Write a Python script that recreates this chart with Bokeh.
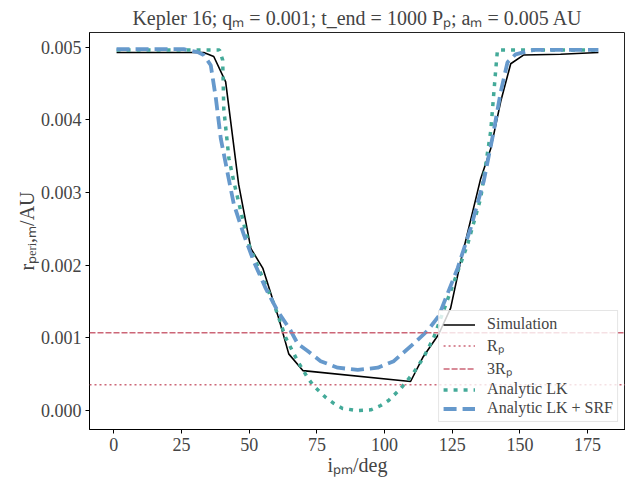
from bokeh.plotting import figure
from bokeh.models import SingleIntervalTicker, PrintfTickFormatter, Span
from bokeh.embed import file_html
from bokeh.resources import INLINE

# ---- data ----
sim_i = [1, 33.2, 36.9, 41.3, 46.1, 50.6, 55.0, 60.9, 64.6, 69.8,
         109.6, 114.1, 120.0, 124.4, 128.1, 135.5, 139.2, 142.9, 146.6, 151.3, 165.0, 179]
sim_r = [0.004925, 0.004925, 0.00487, 0.00452, 0.00311, 0.00223, 0.00196, 0.00127, 0.00078, 0.00055,
         0.00040, 0.00073, 0.00105, 0.00141, 0.00205, 0.00319, 0.00360, 0.00425, 0.00477, 0.00489, 0.00490, 0.004925]

lk_i = [1, 39.0, 40.2, 40.6, 42.5, 44.3, 46.9, 49.8, 55.0, 59.1, 63.5, 67.9, 71.6, 73.8, 78.3, 81.2, 84.5,
        90.0, 94.9, 98.6, 101.5, 105.9, 110.7, 114.4, 118.1, 124.0, 130.7, 135.5, 139.2, 141.0, 141.7, 179]
lk_r = [0.00496, 0.00496, 0.00482, 0.00415, 0.00347, 0.00315, 0.00274, 0.00229, 0.00182, 0.00147, 0.00100,
        0.00068, 0.00045, 0.00034, 0.00018, 0.00010, 0.00003, 0.0, 0.00001, 0.00007, 0.00014, 0.00030,
        0.00052, 0.00073, 0.00100, 0.00160, 0.00229, 0.00292, 0.00384, 0.00466, 0.00496, 0.00496]

srf_i = [1, 25.8, 31.0, 33.2, 35.8, 37.7, 39.5, 42.1, 44.3, 48.0, 51.7, 56.1, 60.5, 65.3, 67.9, 71.6, 76.4,
         82.7, 90.1, 97.5, 103.4, 110.7, 115.9, 120.0, 121.8, 127.0, 131.8, 136.6, 140.3, 142.9, 145.4,
         148.4, 155.0, 179]
srf_r = [0.00497, 0.00497, 0.00493, 0.00489, 0.00475, 0.00429, 0.00374, 0.00325, 0.00284, 0.00242, 0.00205,
         0.00168, 0.00137, 0.00110, 0.00092, 0.00082, 0.00068, 0.00059, 0.00056, 0.00059, 0.00068, 0.00092,
         0.00110, 0.00130, 0.00147, 0.00196, 0.00251, 0.00315, 0.00384, 0.00438, 0.00479, 0.00490, 0.00496,
         0.00496]

r_planet = 0.000356
r_planet3 = 0.00107

FONT = "Liberation Serif"
ROSE = "#CC6677"
TEAL = "#44AA99"
BLUE = "#6699CC"
NAN = float("nan")

p = figure(width=625, height=489, x_range=(-9, 189), y_range=(-0.00026, 0.0052),
           output_backend="svg", toolbar_location=None,
           min_border_left=89, min_border_right=0, min_border_top=30, min_border_bottom=60,
           title="Kepler 16; qₘ = 0.001; t_end = 1000 Pₚ; aₘ = 0.005 AU")

p.title.text_font = FONT
p.title.text_font_size = "20px"
p.title.text_font_style = "normal"
p.title.align = "center"
p.title.standoff = 8
p.title.offset = 0

p.xgrid.visible = False
p.ygrid.visible = False
p.outline_line_color = "#222222"
p.outline_line_width = 1

for ax in (p.xaxis[0], p.yaxis[0]):
    ax.major_label_text_font = FONT
    ax.major_label_text_font_size = "18px"
    ax.axis_label_text_font = FONT
    ax.axis_label_text_font_size = "20px"
    ax.axis_label_text_font_style = "normal"
    ax.major_tick_out = 4
    ax.major_tick_in = 0
    ax.minor_tick_out = 0
    ax.minor_tick_in = 0
    ax.axis_line_color = "black"
    ax.major_tick_line_color = "black"
    ax.major_label_standoff = 4
    ax.axis_label_standoff = 0

p.xaxis.ticker = SingleIntervalTicker(interval=25)
p.yaxis.ticker = SingleIntervalTicker(interval=0.001)
p.yaxis.formatter = PrintfTickFormatter(format="%.3f")
p.xaxis.axis_label = "iₚₘ/deg"
p.yaxis.axis_label = "rₚₑᵣᵢ,ₘ/AU"

p.line(sim_i, sim_r, line_color="black", line_width=1.6, legend_label="Simulation")

p.add_layout(Span(location=r_planet, dimension="width", line_color=ROSE,
                  line_width=1.5, line_dash="2 3"))
p.add_layout(Span(location=r_planet3, dimension="width", line_color=ROSE,
                  line_width=1.5, line_dash="6 2"))
p.line([NAN], [NAN], line_color=ROSE, line_width=1.5, line_dash="2 3", legend_label="Rₚ")
p.line([NAN], [NAN], line_color=ROSE, line_width=1.5, line_dash="6 2", legend_label="3Rₚ")

p.line(lk_i, lk_r, line_color=TEAL, line_width=3.5, line_dash="4 6", legend_label="Analytic LK")
p.line(srf_i, srf_r, line_color=BLUE, line_width=3.8, line_dash="13 6", legend_label="Analytic LK + SRF")

lg = p.legend[0]
lg.location = "bottom_right"
lg.margin = 7
lg.padding = 4
lg.spacing = 1
lg.glyph_width = 32
lg.glyph_height = 17
lg.label_standoff = 12
lg.label_text_font = FONT
lg.label_text_font_size = "16px"
lg.border_line_color = "#cccccc"
lg.background_fill_alpha = 0.8

open("out.html", "w").write(file_html(p, INLINE))
